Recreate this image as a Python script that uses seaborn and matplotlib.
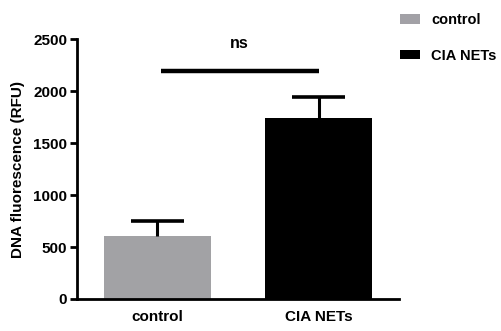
import pandas as pd
import matplotlib
matplotlib.use("Agg")
import matplotlib.pyplot as plt
import matplotlib.patches as mpatches
import seaborn as sns

# Data
groups = ["control", "CIA NETs"]
means = [606, 1745]
sem = [145, 200]
colors = ["#A2A1A6", "#000000"]
sig_label = "ns"
sig_y = 2190

sns.set_style("ticks")
plt.rcParams['font.family'] = ['Liberation Sans', 'DejaVu Sans']
plt.rcParams['font.weight'] = 'bold'
plt.rcParams['text.color'] = 'black'
plt.rcParams['axes.labelcolor'] = 'black'
plt.rcParams['xtick.color'] = 'black'
plt.rcParams['ytick.color'] = 'black'
plt.rcParams['axes.edgecolor'] = 'black'

df = pd.DataFrame({"group": groups, "value": means})

fig = plt.figure(figsize=(5.02, 3.31), dpi=100)
ax = fig.add_axes([0.153, 0.0967, 0.642, 0.7853])

sns.barplot(data=df, x="group", y="value", hue="group", palette=colors,
            width=0.667, errorbar=None, legend=False, ax=ax,
            edgecolor="none")

# upper-only error bars (stem + cap)
xs = list(range(len(groups)))
tops = [m + s for m, s in zip(means, sem)]
ax.vlines(xs, means, tops, color="black", lw=2.2)
ax.hlines(tops, [x - 0.165 for x in xs], [x + 0.165 for x in xs],
          color="black", lw=2.6)

# significance bar
ax.plot([0.02, 1.0], [sig_y, sig_y], color="black", lw=3.2,
        solid_capstyle="butt")
ax.text(0.51, 2460, sig_label, ha="center", va="center", fontsize=11.5,
        fontweight="bold")

ax.set_xlim(-0.5, 1.5)
ax.set_ylim(0, 2500)
ax.set_yticks([0, 500, 1000, 1500, 2000, 2500])
ax.set_xlabel("")
ax.set_ylabel("DNA fluorescence (RFU)", fontsize=11, fontweight="bold",
              labelpad=6)
ax.tick_params(axis="y", labelsize=11, width=2, length=5, pad=2)
ax.tick_params(axis="x", labelsize=11, length=0, pad=8)
for lab in ax.get_xticklabels() + ax.get_yticklabels():
    lab.set_fontweight("bold")
for side in ["left", "bottom"]:
    ax.spines[side].set_linewidth(2)
sns.despine(ax=ax)

handles = [mpatches.Patch(facecolor=c, edgecolor="none", label=g)
           for g, c in zip(groups, colors)]
fig.legend(handles=handles, loc="upper left", bbox_to_anchor=(0.77, 1.0),
           frameon=False, handlelength=1.4,
           handleheight=0.6, handletextpad=0.75, labelspacing=1.5,
           prop={"weight": "bold", "size": 10.5})

fig.savefig("out.png", dpi=100)
